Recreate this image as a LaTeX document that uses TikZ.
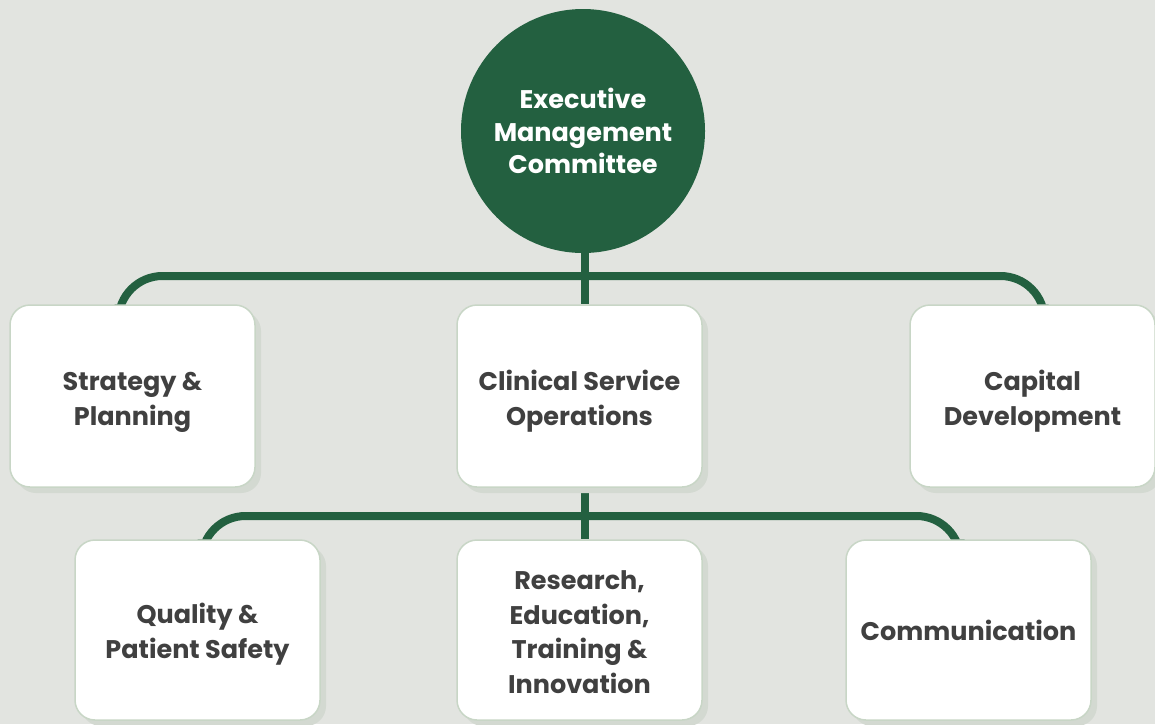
\documentclass[tikz,border=0pt]{standalone}
\usepackage{fontspec}
\setmainfont{Poppins}
\usetikzlibrary{shadows}
\definecolor{bgc}{HTML}{E2E4E0}
\definecolor{grn}{HTML}{236040}
\definecolor{txt}{HTML}{404040}
\definecolor{brd}{HTML}{C8D6C6}
\definecolor{shc}{HTML}{D3D9D1}
\newcommand{\firststrut}[1]{\rule{0pt}{#1pt}}
\pgfdeclarelayer{bg}
\pgfsetlayers{bg,main}
\tikzset{
  unitbox/.style={draw=brd, line width=1.5pt, fill=white, rounded corners=20pt,
    minimum width=245pt, minimum height=182pt, align=center, text=txt,
    font=\fontsize{25.5}{34.8}\selectfont\bfseries,
    drop shadow={shadow xshift=6pt, shadow yshift=-6pt, fill=shc, opacity=1}},
  conn/.style={draw=grn, line width=8pt},
}
\begin{document}
\begin{tikzpicture}[x=1pt,y=-1pt]
\useasboundingbox (0,0) rectangle (1155,724);
\node[circle, fill=grn, minimum size=244pt, inner sep=0pt, text=white, align=center,
  font=\fontsize{25.5}{32.5}\selectfont\bfseries] (exec) at (583,131) {Executive\\Management\\Committee};
\node[unitbox] (strat) at (132.5,396) {\firststrut{31}Strategy \&\\Planning};
\node[unitbox] (clin) at (579.5,396) {\firststrut{31}Clinical Service\\Operations};
\node[unitbox] (cap) at (1032.5,396) {\firststrut{31}Capital\\Development};
\node[unitbox, minimum height=180pt] (qual) at (197.5,630) {\firststrut{29}Quality \&\\Patient Safety};
\node[unitbox, minimum height=180pt] (res) at (579.5,630) {\firststrut{23}Research,\\Education,\\Training \&\\Innovation};
\node[unitbox, minimum height=180pt] (comm) at (968.5,630) {Communication};
\coordinate (bus1) at (585,276);
\coordinate (bus2) at (585,516);
\begin{pgfonlayer}{bg}
\fill[bgc] (0,0) rectangle (1155,724);
\draw[conn, rounded corners=44pt] ([xshift=-14pt]strat.north) |- (bus1) -| ([xshift=12pt]cap.north);
\draw[conn] (bus1 |- exec.south) -- (bus1 |- clin.north);
\draw[conn, rounded corners=44pt] ([xshift=4pt]qual.north) |- (bus2) -| ([xshift=-8pt]comm.north);
\draw[conn] (bus2 |- clin.south) -- (bus2 |- res.north);
\end{pgfonlayer}
\end{tikzpicture}
\end{document}
